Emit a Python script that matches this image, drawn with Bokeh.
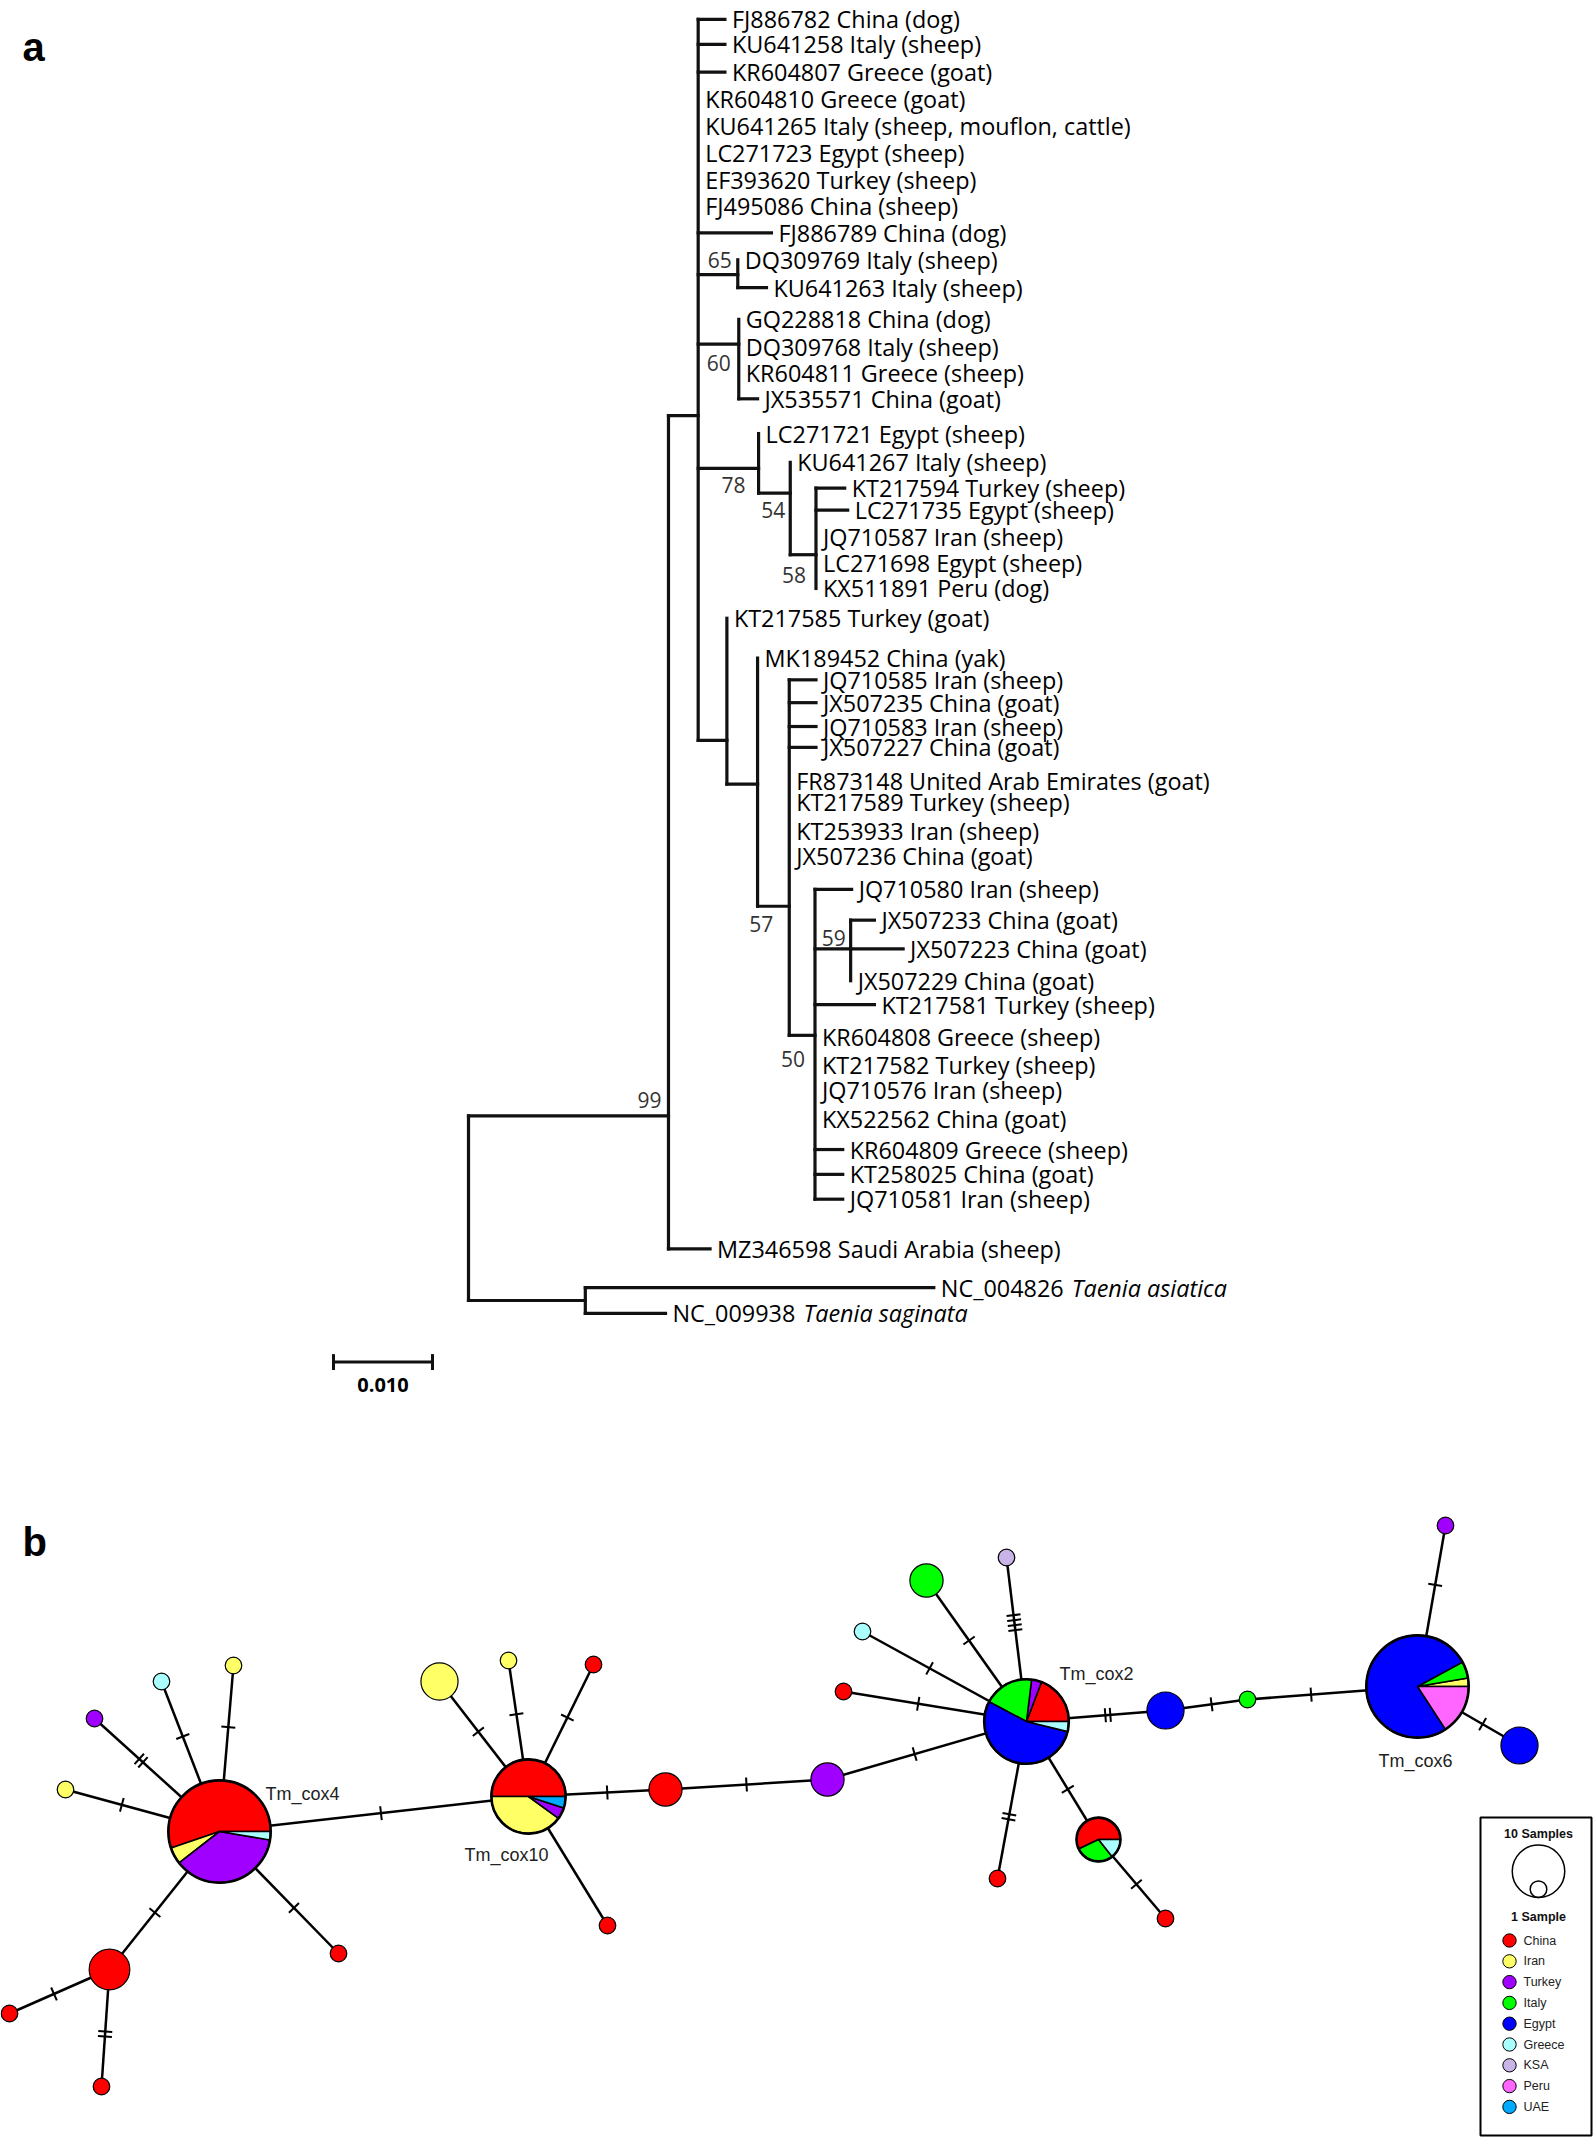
import math
from bokeh.plotting import figure
from bokeh.layouts import column
from bokeh.models import Range1d
from bokeh.core.properties import value
from bokeh.embed import file_html
from bokeh.resources import INLINE

# ------------------------------------------------------------------
# DATA - panel a : neighbour-joining tree (branch lengths in subst./site)
# ------------------------------------------------------------------
node_names   = ["R", "N99", "O", "A", "N65", "N60", "N78", "N54", "N58", "B", "C", "D", "E", "F"]
node_parents = [None, "R", "R", "N99", "A", "A", "A", "N78", "N54", "A", "B", "C", "D", "E"]
node_lengths = [0.0, 0.0202, 0.0118, 0.0030, 0.0040, 0.0041, 0.0061, 0.0032, 0.0026,
                0.0029, 0.0031, 0.0032, 0.0026, 0.0036]
node_rows    = [None, 1114, 1300, 409, 267, 337, 462, 487, 549, 736, 780, 903, 1033, 946]
node_support = [None, 99, None, None, 65, 60, 78, 54, 58, None, None, 57, 50, 59]

leaf_ids = ["FJ886782", "KU641258", "KR604807", "KR604810", "KU641265", "LC271723", "EF393620",
            "FJ495086", "FJ886789", "DQ309769", "KU641263", "GQ228818", "DQ309768", "KR604811",
            "JX535571", "LC271721", "KU641267", "KT217594", "LC271735", "JQ710587", "LC271698",
            "KX511891", "KT217585", "MK189452", "JQ710585", "JX507235", "JQ710583", "JX507227",
            "FR873148", "KT217589", "KT253933", "JX507236", "JQ710580", "JX507233", "JX507223",
            "JX507229", "KT217581", "KR604808", "KT217582", "JQ710576", "KX522562", "KR604809",
            "KT258025", "JQ710581", "MZ346598", "NC_004826", "NC_009938"]
leaf_desc = ["China (dog)", "Italy (sheep)", "Greece (goat)", "Greece (goat)",
             "Italy (sheep, mouflon, cattle)", "Egypt (sheep)", "Turkey (sheep)", "China (sheep)",
             "China (dog)", "Italy (sheep)", "Italy (sheep)", "China (dog)", "Italy (sheep)",
             "Greece (sheep)", "China (goat)", "Egypt (sheep)", "Italy (sheep)", "Turkey (sheep)",
             "Egypt (sheep)", "Iran (sheep)", "Egypt (sheep)", "Peru (dog)", "Turkey (goat)",
             "China (yak)", "Iran (sheep)", "China (goat)", "Iran (sheep)", "China (goat)",
             "United Arab Emirates (goat)", "Turkey (sheep)", "Iran (sheep)", "China (goat)",
             "Iran (sheep)", "China (goat)", "China (goat)", "China (goat)", "Turkey (sheep)",
             "Greece (sheep)", "Turkey (sheep)", "Iran (sheep)", "China (goat)", "Greece (sheep)",
             "China (goat)", "Iran (sheep)", "Saudi Arabia (sheep)", "", ""]
leaf_parent = ["A", "A", "A", "A", "A", "A", "A", "A", "A", "N65", "N65", "N60", "N60", "N60",
               "N60", "N78", "N54", "N58", "N58", "N58", "N58", "N58", "B", "C", "D", "D", "D",
               "D", "D", "D", "D", "D", "E", "F", "F", "F", "E", "E", "E", "E", "E", "E", "E",
               "E", "N99", "O", "O"]
leaf_length = [0.0027, 0.0027, 0.0027, 0, 0, 0, 0, 0, 0.0074, 0, 0.0029, 0, 0, 0, 0.0019,
               0, 0, 0.0029, 0.0032, 0, 0, 0, 0, 0, 0.0027, 0.0027, 0.0027, 0.0027, 0, 0, 0, 0,
               0.0037, 0.0024, 0.0053, 0, 0.0060, 0, 0, 0, 0, 0.0028, 0.0028, 0.0028, 0.0042,
               0.0352, 0.0081]
leaf_row = [10, 35, 63, 90, 117, 144, 172, 198, 225, 252, 280, 312, 340, 366, 392, 427, 456,
            482, 504, 531, 557, 583, 613, 653, 675, 698, 722, 743, 777, 798, 827, 852, 886,
            917, 946, 978, 1002, 1035, 1063, 1088, 1117, 1148, 1173, 1198, 1248, 1287, 1313]
species_names = {"NC_004826": "Taenia asiatica", "NC_009938": "Taenia saginata"}
scale_bar_value = 0.010

# ------------------------------------------------------------------
# DATA - panel b : haplotype network
# ------------------------------------------------------------------
countries = ["China", "Iran", "Turkey", "Italy", "Egypt", "Greece", "KSA", "Peru", "UAE"]
country_colors = ["#FF0000", "#FFFF66", "#A000FF", "#00FF00", "#0000FF", "#AAFFFF",
                  "#C8B4E6", "#FF66FF", "#00AAFF"]
hap_names = ["Tm_cox4", "Tm_cox10", "Tm_cox2", "Tm_cox6"]
hap_x = [219, 528, 1026, 1417, 65, 94, 161, 233, 109, 338, 9, 101, 439, 508, 593, 607, 665,
         827, 843, 862, 926, 1006, 1165, 997, 1098, 1165, 1247, 1445, 1519]
hap_y = [1831, 1796, 1721, 1686, 1789, 1718, 1681, 1665, 1969, 1953, 2013, 2086, 1681, 1660,
         1664, 1925, 1789, 1779, 1691, 1631, 1580, 1557, 1710, 1878, 1839, 1918, 1699, 1525, 1745]
#            China Iran Turkey Italy Egypt Greece KSA Peru UAE
hap_counts = [
    [21, 2, 14, 0, 0, 1, 0, 0, 0],
    [10, 8, 1, 0, 0, 0, 0, 0, 1],
    [5, 0, 1, 5, 14, 1, 0, 0, 0],
    [0, 1, 0, 2, 29, 0, 0, 6, 0],
    [0, 1, 0, 0, 0, 0, 0, 0, 0],
    [0, 0, 1, 0, 0, 0, 0, 0, 0],
    [0, 0, 0, 0, 0, 1, 0, 0, 0],
    [0, 1, 0, 0, 0, 0, 0, 0, 0],
    [6, 0, 0, 0, 0, 0, 0, 0, 0],
    [1, 0, 0, 0, 0, 0, 0, 0, 0],
    [1, 0, 0, 0, 0, 0, 0, 0, 0],
    [1, 0, 0, 0, 0, 0, 0, 0, 0],
    [0, 5, 0, 0, 0, 0, 0, 0, 0],
    [0, 1, 0, 0, 0, 0, 0, 0, 0],
    [1, 0, 0, 0, 0, 0, 0, 0, 0],
    [1, 0, 0, 0, 0, 0, 0, 0, 0],
    [4, 0, 0, 0, 0, 0, 0, 0, 0],
    [0, 0, 4, 0, 0, 0, 0, 0, 0],
    [1, 0, 0, 0, 0, 0, 0, 0, 0],
    [0, 0, 0, 0, 0, 1, 0, 0, 0],
    [0, 0, 0, 4, 0, 0, 0, 0, 0],
    [0, 0, 0, 0, 0, 0, 1, 0, 0],
    [0, 0, 0, 0, 5, 0, 0, 0, 0],
    [1, 0, 0, 0, 0, 0, 0, 0, 0],
    [4, 0, 0, 2, 0, 1, 0, 0, 0],
    [1, 0, 0, 0, 0, 0, 0, 0, 0],
    [0, 0, 0, 1, 0, 0, 0, 0, 0],
    [0, 0, 1, 0, 0, 0, 0, 0, 0],
    [0, 0, 0, 0, 5, 0, 0, 0, 0],
]
edge_from = [0, 0, 0, 0, 0, 0, 0, 8, 8, 1, 1, 1, 1, 1, 16, 17, 2, 2, 2, 2, 2, 2, 2, 24, 22, 26, 3, 3]
edge_to   = [4, 5, 6, 7, 8, 9, 1, 10, 11, 12, 13, 14, 15, 16, 17, 2, 18, 19, 20, 21, 22, 23, 24, 25, 26, 3, 27, 28]
edge_mut  = [1, 2, 1, 1, 1, 1, 1, 1, 2, 1, 1, 1, 0, 1, 1, 1, 1, 1, 1, 4, 2, 2, 1, 1, 1, 1, 1, 1]
hap_label_x = [265, 464, 1059, 1378]
hap_label_y = [1793, 1854, 1673, 1760]

# ------------------------------------------------------------------
# LAYOUT / STYLE
# ------------------------------------------------------------------
W = 1594
TREE_H = 1440
NET_H = 698
PX_PER_UNIT = 9900.0       # 99 px for 0.010
ROOT_PX = 468              # root position from the left edge
TREE_FONT = value("Open Sans")
NET_FONT = value("Liberation Sans")
INK = "#000000"

def d_of_page(px):
    return (px - ROOT_PX) / PX_PER_UNIT

p1 = figure(width=W, height=TREE_H, output_backend="svg", toolbar_location=None,
            x_range=Range1d(d_of_page(0), d_of_page(W)),
            y_range=Range1d(1441, -9.1), min_border=0,
            x_axis_location=None, y_axis_location=None)
p1.grid.visible = False
p1.outline_line_color = None

# ---- tree geometry from branch lengths
depth, row = {}, {}
for nm, par, ln, rw in zip(node_names, node_parents, node_lengths, node_rows):
    depth[nm] = 0.0 if par is None else depth[par] + ln
    row[nm] = rw
child_rows = {nm: [] for nm in node_names}
for nm, par, rw in zip(node_names, node_parents, node_rows):
    if par is not None:
        child_rows[par].append(rw)
for par, rw in zip(leaf_parent, leaf_row):
    child_rows[par].append(rw)

sx0, sy0, sx1, sy1 = [], [], [], []
for nm, par in zip(node_names, node_parents):
    ys = child_rows[nm]
    sx0.append(depth[nm]); sx1.append(depth[nm]); sy0.append(min(ys)); sy1.append(max(ys))
    if par is not None:
        sx0.append(depth[par]); sx1.append(depth[nm]); sy0.append(row[nm]); sy1.append(row[nm])
leaf_x = []
for par, ln, rw in zip(leaf_parent, leaf_length, leaf_row):
    lx = depth[par] + ln
    leaf_x.append(lx)
    if ln > 0:
        sx0.append(depth[par]); sx1.append(lx); sy0.append(rw); sy1.append(rw)
p1.segment(sx0, sy0, sx1, sy1, line_width=3.2, line_color="#111111", line_cap="square")

leaf_text = [(a + " " + d).strip() for a, d in zip(leaf_ids, leaf_desc)]
p1.text(x=leaf_x, y=leaf_row, text=leaf_text, x_offset=7, text_baseline="middle",
        text_align="left", text_font=TREE_FONT, text_font_size="23.4px", text_color=INK)

sp_x = [leaf_x[leaf_ids.index(k)] for k in species_names]
sp_y = [leaf_row[leaf_ids.index(k)] for k in species_names]
p1.text(x=sp_x, y=sp_y, text=list(species_names.values()), x_offset=7 + 131,
        text_baseline="middle", text_align="left", text_font=TREE_FONT,
        text_font_size="23.4px", text_font_style="italic", text_color=INK)

# bootstrap labels
support_offsets = {"N99": (-7, -16), "N65": (-6, -15), "N60": (-8, 19), "N78": (-13, 17),
                   "N54": (-5, 17), "N58": (-10, 20), "D": (-16, 18), "E": (-10, 24),
                   "F": (-5, -11)}
bx, by, bt, bo = [], [], [], []
for nm, sup in zip(node_names, node_support):
    if sup is None:
        continue
    dx, dy = support_offsets[nm]
    bx.append(depth[nm]); by.append(row[nm] + dy); bt.append(str(sup)); bo.append(dx)
p1.text(x=bx, y=by, text=bt, x_offset=bo, text_align="right", text_baseline="middle",
        text_font=TREE_FONT, text_font_size="21px", text_color="#333333")

# scale bar
sb0 = d_of_page(333)
p1.segment([sb0, sb0, sb0 + scale_bar_value], [1362, 1354, 1354],
           [sb0 + scale_bar_value, sb0, sb0 + scale_bar_value], [1362, 1370, 1370],
           line_width=3, line_color="#111111")
p1.text(x=[sb0 + scale_bar_value / 2], y=[1385], text=[f"{scale_bar_value:.3f}"],
        text_align="center", text_baseline="middle", text_font=TREE_FONT,
        text_font_size="20px", text_font_style="bold", text_color=INK)
p1.text(x=[d_of_page(22)], y=[38], text=["a"], text_align="left", text_baseline="middle",
        text_font=NET_FONT, text_font_size="40px", text_font_style="bold", text_color="#000000")

# ------------------------------------------------------------------
# panel b
# ------------------------------------------------------------------
TOP = TREE_H
p2 = figure(width=W, height=NET_H, output_backend="svg", toolbar_location=None,
            x_range=Range1d(0, W), y_range=Range1d(-(TOP + NET_H), -TOP), min_border=0,
            x_axis_location=None, y_axis_location=None)
p2.grid.visible = False
p2.outline_line_color = None

R1 = 8.3
def radius(n):
    return R1 * math.sqrt(n)

hx = hap_x
hy = [-v for v in hap_y]
hr = [radius(sum(c)) for c in hap_counts]

ex0, ey0, ex1, ey1 = [], [], [], []
tx0, ty0, tx1, ty1 = [], [], [], []
for a, b, m in zip(edge_from, edge_to, edge_mut):
    ex0.append(hx[a]); ey0.append(hy[a]); ex1.append(hx[b]); ey1.append(hy[b])
    dx, dy = hx[b] - hx[a], hy[b] - hy[a]
    L = math.hypot(dx, dy)
    ux, uy = dx / L, dy / L
    nx, ny = -uy, ux
    tmid = (hr[a] + (L - hr[b])) / 2
    for k in range(m):
        t = tmid + (k - (m - 1) / 2) * 5
        cx, cy = hx[a] + ux * t, hy[a] + uy * t
        tx0.append(cx - nx * 7); ty0.append(cy - ny * 7)
        tx1.append(cx + nx * 7); ty1.append(cy + ny * 7)
p2.segment(ex0, ey0, ex1, ey1, line_width=2.5, line_color="#000000")
p2.segment(tx0, ty0, tx1, ty1, line_width=2, line_color="#000000")

wx, wy, wr, ws, we, wc = [], [], [], [], [], []
cx_, cy_, cs_, cc_ = [], [], [], []
ox, oy, osz = [], [], []
for x, y, r, counts in zip(hx, hy, hr, hap_counts):
    n = sum(counts)
    parts = [(c, col) for c, col in zip(counts, country_colors) if c > 0]
    if len(parts) == 1:
        cx_.append(x); cy_.append(y); cs_.append(2 * r); cc_.append(parts[0][1])
    else:
        a0 = 0.0
        for c, col in parts:
            a1 = a0 + 2 * math.pi * c / n
            wx.append(x); wy.append(y); wr.append(r); ws.append(a0); we.append(a1); wc.append(col)
            a0 = a1
        ox.append(x); oy.append(y); osz.append(2 * r)
p2.scatter(cx_, cy_, size=cs_, marker="circle", fill_color=cc_, line_color="#000000",
           line_width=1.2)
p2.wedge(x=wx, y=wy, radius=wr, start_angle=ws, end_angle=we, radius_units="screen",
         fill_color=wc, line_color="#000000", line_width=1.6)
p2.scatter(ox, oy, size=osz, marker="circle", fill_color=None, line_color="#000000",
           line_width=2.6)

p2.text(x=hap_label_x, y=[-v for v in hap_label_y], text=hap_names, text_align="left",
        text_baseline="middle", text_font=NET_FONT, text_font_size="18px",
        text_color="#222222")
p2.text(x=[22], y=[-1541], text=["b"], text_align="left", text_baseline="middle",
        text_font=NET_FONT, text_font_size="40px", text_font_style="bold",
        text_color="#000000")

# legend
LX, LTOP = 1538, 1817
p2.quad(left=[1480], right=[1591], top=[-LTOP], bottom=[-2135], fill_color=None,
        line_color="#000000", line_width=2)
p2.text(x=[LX, LX], y=[-1833, -1916], text=["10 Samples", "1 Sample"], text_align="center",
        text_baseline="middle", text_font=NET_FONT, text_font_size="12.5px",
        text_font_style="bold", text_color="#111111")
base = 1897
p2.scatter([LX, LX], [-(base - radius(10)), -(base - radius(1))],
           size=[2 * radius(10), 2 * radius(1)], marker="circle", fill_color=None,
           line_color="#000000", line_width=1.5)
ly = [-(1940 + 20.8 * i) for i in range(len(countries))]
p2.scatter([1509] * len(countries), ly, size=13.4, marker="circle", fill_color=country_colors,
           line_color="#000000", line_width=1)
p2.text(x=[1523] * len(countries), y=ly, text=countries, text_align="left",
        text_baseline="middle", text_font=NET_FONT, text_font_size="12.5px",
        text_color="#222222")

layout = column(p1, p2, spacing=0)
open("out.html", "w").write(file_html(layout, INLINE))
